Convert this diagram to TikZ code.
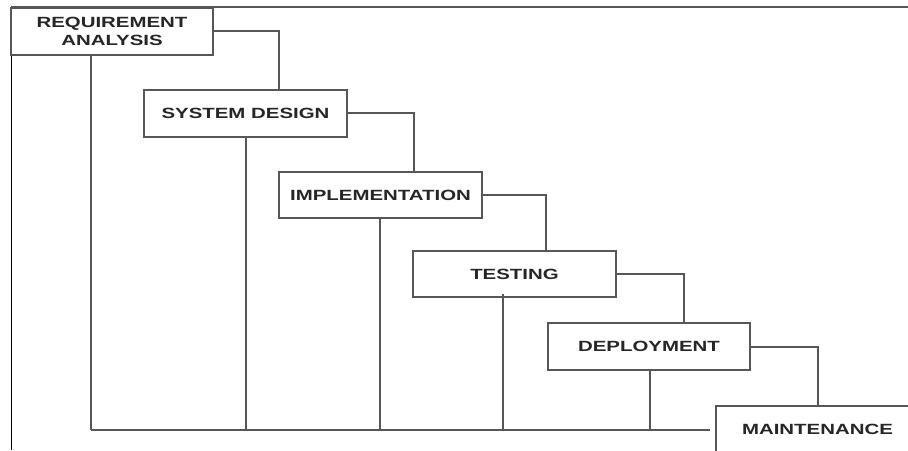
\documentclass[tikz,border=0pt]{standalone}
\usepackage{fontspec}
\newfontfamily\phasefont[FakeStretch=1.38]{Liberation Sans}
\begin{document}
\begin{tikzpicture}[x=1pt,y=-1pt,
  phase/.style={draw=linegray, line width=1.9pt, fill=white, rectangle,
    minimum width=202pt, minimum height=47pt, inner sep=0pt,
    align=center, text=black!85,
    font=\phasefont\fontsize{14.8}{18}\selectfont\bfseries},
  link/.style={draw=linegray, line width=1.9pt}]
  \definecolor{linegray}{HTML}{575757}
  \useasboundingbox (0,0) rectangle (908,450);
  \clip (0,0) rectangle (908,450);
  \fill[white] (0,0) rectangle (908,450);

  % frame on the top and left
  \draw[link] (11,7) -- (908,7);
  \draw[black, line width=1pt] (11,7) -- (11,450);

  % turning points of the connectors
  \coordinate (r1) at (279,31);
  \coordinate (r2) at (414,113);
  \coordinate (r3) at (546,195);
  \coordinate (r4) at (684,274);
  \coordinate (r5) at (818,347);
  \coordinate (b1) at (91,430);
  \coordinate (b2) at (246,430);
  \coordinate (b3) at (380,430);
  \coordinate (b4) at (503,430);
  \coordinate (b5) at (650,430);
  \coordinate (bend) at (710,430);

  % phases
  \node[phase, minimum width=202pt] (req) at (112,31.5) {REQUIREMENT\\ANALYSIS};
  \node[phase, minimum width=203pt] (sd) at (245.5,113.5) {SYSTEM DESIGN};
  \node[phase, minimum width=203pt, minimum height=46pt] (impl) at (380.5,195) {IMPLEMENTATION};
  \node[phase, minimum width=203pt, minimum height=46pt] (test) at (514.5,274) {TESTING};
  \node[phase, minimum width=202pt] (dep) at (649,346.5) {DEPLOYMENT};
  \node[phase, minimum width=203pt] (maint) at (817.5,429.5) {MAINTENANCE};

  % downward steps between phases
  \draw[link] (req.east |- r1) -- (r1) -- (r1 |- sd.north);
  \draw[link] (sd.east |- r2) -- (r2) -- (r2 |- impl.north);
  \draw[link] (impl.east |- r3) -- (r3) -- (r3 |- test.north);
  \draw[link] (test.east |- r4) -- (r4) -- (r4 |- dep.north);
  \draw[link] (dep.east |- r5) -- (r5) -- (r5 |- maint.north);

  % return lines down to the common base line
  \draw[link] (req.south -| b1) -- (b1);
  \draw[link] (sd.south -| b2) -- (b2);
  \draw[link] (impl.south -| b3) -- (b3);
  \draw[link] ([yshift=4pt]test.south -| b4) -- (b4);
  \draw[link] (dep.south -| b5) -- (b5);
  \draw[link] (b1) -- (bend);
\end{tikzpicture}
\end{document}
